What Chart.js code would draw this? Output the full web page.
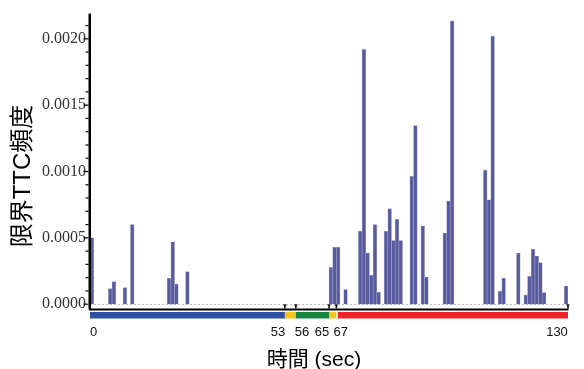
<!DOCTYPE html>
<html>
<head>
<meta charset="utf-8">
<script src="https://cdn.jsdelivr.net/npm/chart.js@4"></script>
<style>
  html, body { margin: 0; padding: 0; background: #fff; }
  #wrap { width: 584px; height: 369px; }
</style>
</head>
<body>
<div id="wrap"><canvas id="c" width="584" height="369"></canvas></div>
<script>
// One-second bins (start time, sec) and the critical-TTC frequency in each bin
const binStart = [0, 5, 6, 9, 11, 21, 22, 23, 26,
  65, 66, 67, 69, 73, 74, 75, 76, 77, 78,
  80, 81, 82, 83, 84, 87, 88, 90, 91, 96, 97, 98,
  107, 108, 109, 111, 112, 116, 118, 119, 120, 121, 122, 123, 129];
const ttcFreq = [0.00050, 0.000117, 0.000170, 0.000125, 0.000600, 0.000195, 0.000470, 0.000152, 0.000245,
  0.000277, 0.000430, 0.000430, 0.000110, 0.000550, 0.001920, 0.000386, 0.000218, 0.000600, 0.000090,
  0.000550, 0.000720, 0.000480, 0.000640, 0.000480, 0.000963, 0.001346, 0.000590, 0.000205, 0.000536, 0.000777, 0.002135,
  0.001010, 0.000787, 0.002020, 0.000098, 0.000195, 0.000386, 0.000070, 0.000210, 0.000414, 0.000363, 0.000313, 0.000088, 0.000138];

// Driving phases along the time axis
const phaseEdges = [0, 53, 56, 65, 67, 130];
const phaseColors = ['#2f50a0', '#f5c41f', '#17853f', '#f5c41f', '#ee2227'];

// Axis ticks
const xTickValues = [0, 53, 56, 65, 67, 130];
const yTickValues = [0, 0.0005, 0.0010, 0.0015, 0.0020];
const yMinorCount = 21;          // minor marks every 0.0001
const yMinorStep = 0.0001;

const X_TITLE = '時間 (sec)';
const Y_TITLE = '限界TTC頻度';

const sansCJK = '"Liberation Sans", "Noto Sans CJK JP", sans-serif';

const decor = {
  id: 'decor',
  beforeDatasetsDraw(chart) {
    const { ctx, chartArea: a, scales: { y } } = chart;
    const y0 = Math.round(y.getPixelForValue(0)) + 0.5;
    ctx.save();
    ctx.strokeStyle = '#bdbdbd';
    ctx.lineWidth = 1;
    ctx.setLineDash([2, 2]);
    ctx.beginPath();
    ctx.moveTo(a.left, y0);
    ctx.lineTo(a.right, y0);
    ctx.stroke();
    ctx.restore();
  },
  afterDraw(chart) {
    const { ctx, chartArea: a, scales: { x, y } } = chart;
    ctx.save();

    // phase band under the time axis
    const bandTop = a.bottom + 2.5, bandH = 6.5;
    for (let i = 0; i < phaseColors.length; i++) {
      let x1 = x.getPixelForValue(phaseEdges[i]);
      const x2 = x.getPixelForValue(phaseEdges[i + 1]);
      if (i === phaseColors.length - 1) x1 += 1.5;
      ctx.fillStyle = phaseColors[i];
      ctx.fillRect(x1, bandTop, x2 - x1, bandH);
    }

    // axis lines
    ctx.fillStyle = '#000';
    const xEnd = x.getPixelForValue(130);
    ctx.fillRect(a.left - 1, a.bottom - 1, xEnd - a.left + 1.5, 2);
    ctx.fillRect(a.left - 1.5, a.top, 2.5, a.bottom - a.top);

    // y tick marks (major + minor)
    for (let i = 0; i <= yMinorCount; i++) {
      const py = y.getPixelForValue(i * yMinorStep);
      const len = i % 5 === 0 ? 5 : 3;
      ctx.fillRect(a.left - 1.5 - len, py - 0.6, len, 1.2);
    }

    // x tick marks at phase boundaries
    xTickValues.slice(1).forEach(v => {
      const px = x.getPixelForValue(v);
      ctx.fillRect(px - 0.75, a.bottom - 5, 1.5, 4);
      ctx.fillRect(px - 1.5, a.bottom - 5, 3, 1);
    });

    // x tick labels, spread slightly so close values stay legible
    const nudge = [3.5, -7, 6, -7, 4.5, -11];
    ctx.font = '13px "Liberation Sans", Arial, sans-serif';
    ctx.fillStyle = '#111';
    ctx.textAlign = 'center';
    ctx.textBaseline = 'middle';
    xTickValues.forEach((v, i) => {
      ctx.fillText(String(v), x.getPixelForValue(v) + nudge[i], 332.5);
    });

    // axis titles
    ctx.fillStyle = '#000';
    ctx.font = '21px ' + sansCJK;
    ctx.fillText(X_TITLE, 314, 360);

    ctx.translate(23, 176);
    ctx.rotate(-Math.PI / 2);
    ctx.font = '24px ' + sansCJK;
    ctx.fillText(Y_TITLE, 0, 0);
    ctx.restore();
  }
};

new Chart(document.getElementById('c'), {
  type: 'bar',
  data: {
    datasets: [{
      data: binStart.map((s, i) => ({ x: s + 0.5, y: ttcFreq[i] })),
      backgroundColor: 'rgb(88,90,158)',
      borderColor: 'rgba(160,160,200,0.9)',
      borderWidth: 0.6,
      categoryPercentage: 1,
      barPercentage: 1
    }]
  },
  options: {
    responsive: false,
    animation: false,
    devicePixelRatio: 1,
    layout: { padding: { top: 13, right: 16, bottom: 59.5, left: 0 } },
    plugins: { legend: { display: false }, tooltip: { enabled: false } },
    scales: {
      x: { type: 'linear', min: 0, max: 130, display: false, offset: false },
      y: {
        min: -0.00004,
        max: 0.00219,
        grid: { display: false, drawTicks: false },
        border: { display: false },
        afterFit(s) { s.width = 90; },
        afterBuildTicks(s) { s.ticks = yTickValues.map(v => ({ value: v })); },
        ticks: {
          callback: v => Number(v).toFixed(4),
          font: { family: '"Liberation Serif", "Times New Roman", serif', size: 16 },
          color: '#333',
          padding: 4
        }
      }
    }
  },
  plugins: [decor]
});
</script>
</body>
</html>
